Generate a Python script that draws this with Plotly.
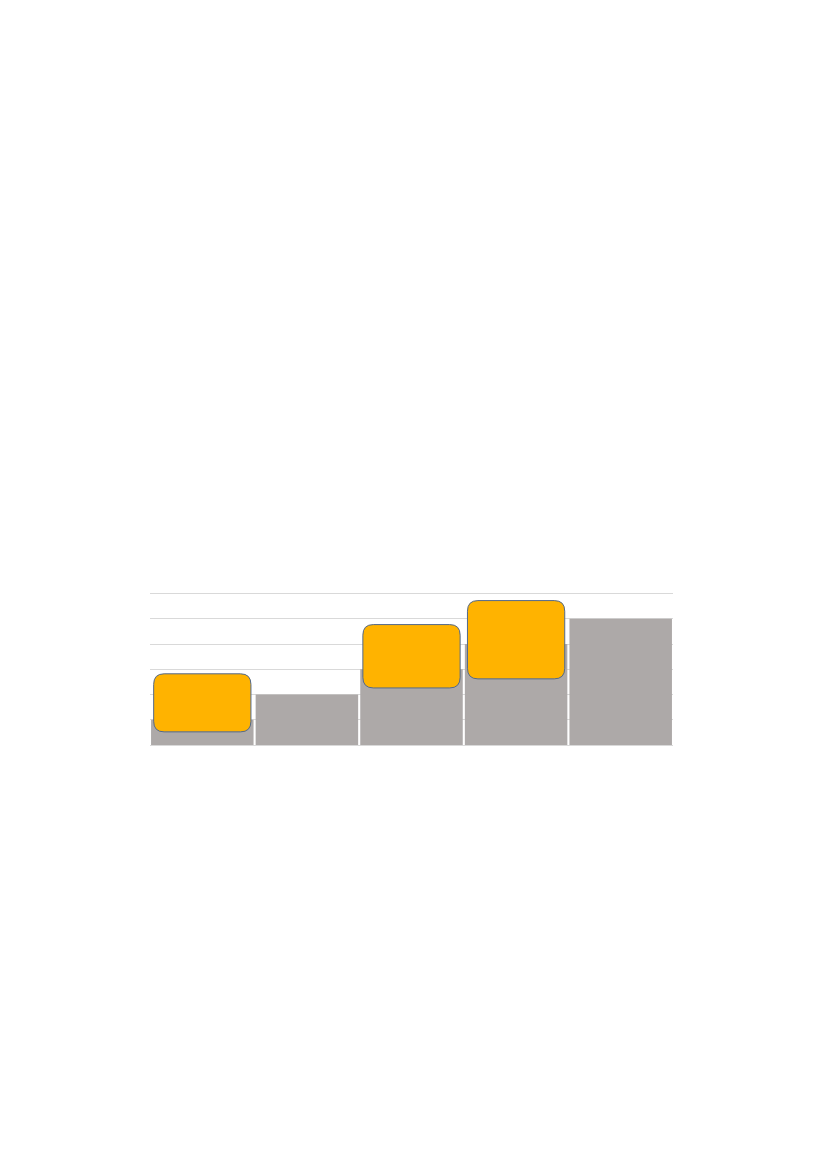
import plotly.graph_objects as go

# ---- data ----
categories = ["1", "2", "3", "4", "5"]
values = [1, 2, 3, 4, 5]

# callout boxes: which bar they sit on, and their vertical extent in value units
callout_bar = [0, 2, 3]
callout_low = [0.52, 2.26, 2.62]
callout_high = [2.82, 4.77, 5.72]

# ---- styles ----
BAR_COLOR = "#ADA9A8"
BOX_FILL = "#FFB300"
BOX_LINE = "#52698C"
GRID = "#D9D9D9"
HALF_W = 0.465
RX, RY = 0.10, 0.42  # corner radius in data units (~10px)

fig = go.Figure()
fig.add_trace(go.Bar(
    x=list(range(len(categories))), y=values,
    marker=dict(color=BAR_COLOR, line=dict(width=0)),
    hoverinfo="skip",
))


def rounded_rect(x0, x1, y0, y1, rx, ry):
    return (
        f"M {x0+rx},{y0} L {x1-rx},{y0} Q {x1},{y0} {x1},{y0+ry} "
        f"L {x1},{y1-ry} Q {x1},{y1} {x1-rx},{y1} "
        f"L {x0+rx},{y1} Q {x0},{y1} {x0},{y1-ry} "
        f"L {x0},{y0+ry} Q {x0},{y0} {x0+rx},{y0} Z"
    )


shapes = []
for b, lo, hi in zip(callout_bar, callout_low, callout_high):
    shapes.append(dict(
        type="path", xref="x", yref="y",
        path=rounded_rect(b - HALF_W, b + HALF_W, lo, hi, RX, RY),
        fillcolor=BOX_FILL, line=dict(color=BOX_LINE, width=1), layer="above",
    ))

fig.update_layout(
    width=811, height=1153,
    margin=dict(l=142, r=146, t=583, b=416),
    paper_bgcolor="white", plot_bgcolor="white",
    showlegend=False, bargap=0.02,
    shapes=shapes,
    xaxis=dict(range=[-0.5, 4.5], showticklabels=False, showgrid=False,
               zeroline=False, ticks="", showline=False, fixedrange=True),
    yaxis=dict(range=[0, 6.1], tickvals=[0, 1, 2, 3, 4, 5, 6],
               showticklabels=False, showgrid=True,
               gridcolor=GRID, gridwidth=1, zeroline=True, zerolinecolor=GRID,
               zerolinewidth=1, ticks="", showline=False, fixedrange=True),
)

fig.write_html("out.html", config={"displayModeBar": False})
